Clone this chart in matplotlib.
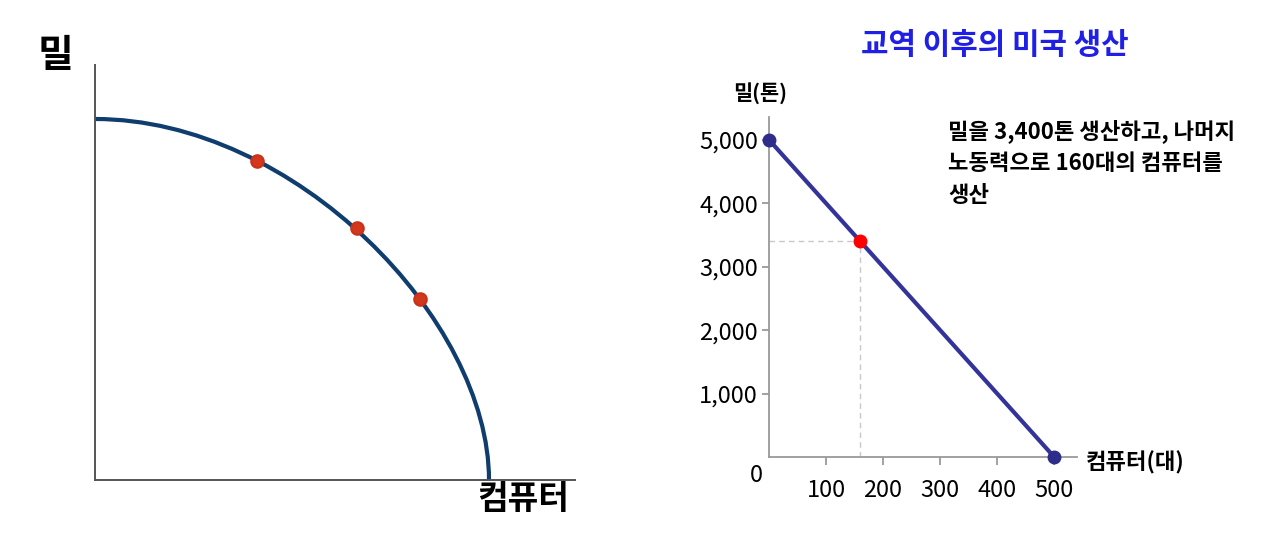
"""PPF sketch (left) and US production after trade (right)."""

import matplotlib
matplotlib.use("Agg")
import matplotlib.pyplot as plt
from matplotlib.path import Path
from matplotlib.patches import PathPatch

# left panel: bowed curve (axis units, no scale shown), ends + bezier controls
ppf_ends_x = [0, 394]
ppf_ends_y = [361, 0]
ppf_ctrl_x = [200, 394]
ppf_ctrl_y = [361, 160]
mark_x = [162, 262, 325]
mark_y = [319, 252, 181]

# right panel: linear PPF after trade
computers = [0, 500]
wheat = [5000, 0]
chosen_x = 160
chosen_y = 3400
xticks = [100, 200, 300, 400, 500]
yticks = [1000, 2000, 3000, 4000, 5000]
ytick_labels = ["1,000", "2,000", "3,000", "4,000", "5,000"]
note_lines = ["밀을 3,400톤 생산하고, 나머지", "노동력으로 160대의 컴퓨터를", "생산"]

KR = ["Noto Sans CJK KR", "DejaVu Sans"]
NUM = ["Liberation Sans Narrow", "Noto Sans CJK KR", "DejaVu Sans"]
W, H = 1270, 536


def fx(px):
    return px / W


def fy(py):
    return 1 - py / H


def main() -> None:
    fig = plt.figure(figsize=(W / 100, H / 100), dpi=100)

    # ---- left: bowed-out PPF
    ax1 = fig.add_axes([fx(95), fy(480), 480 / W, 415 / H])
    verts = [(ppf_ends_x[0], ppf_ends_y[0]),
             (ppf_ctrl_x[0], ppf_ctrl_y[0]),
             (ppf_ctrl_x[1], ppf_ctrl_y[1]),
             (ppf_ends_x[1], ppf_ends_y[1])]
    codes = [Path.MOVETO, Path.CURVE4, Path.CURVE4, Path.CURVE4]
    ax1.add_patch(PathPatch(Path(verts, codes), fc="none", ec="#0f3d6e", lw=3,
                            capstyle="butt", clip_on=False))
    ax1.plot(mark_x, mark_y, "o", ms=9, color="#d4381c", mec="#c8321a", mew=1.5)
    ax1.set_xlim(0, 480)
    ax1.set_ylim(0, 415)
    for s in ["top", "right"]:
        ax1.spines[s].set_visible(False)
    for s in ["left", "bottom"]:
        ax1.spines[s].set_color("#555555")
        ax1.spines[s].set_linewidth(1.4)
    ax1.set_xticks([])
    ax1.set_yticks([])
    fig.text(fx(55), fy(55), "밀", family=KR, fontsize=28, fontweight="bold",
             ha="center", va="center")
    fig.text(fx(523), fy(500), "컴퓨터", family=KR, fontsize=24, fontweight="bold",
             ha="center", va="center")

    # ---- right: straight-line PPF
    ax2 = fig.add_axes([fx(769), fy(457), 308 / W, 340 / H])
    ax2.plot([0, chosen_x], [chosen_y, chosen_y], ls=(0, (4, 3)), lw=1, color="#c8c8c8")
    ax2.plot([chosen_x, chosen_x], [0, chosen_y], ls=(0, (4, 3)), lw=1, color="#c8c8c8")
    ax2.plot(computers, wheat, color="#333399", lw=3, clip_on=False)
    ax2.plot(computers, wheat, "o", ms=9, color="#2e2e8a", clip_on=False, zorder=5)
    ax2.plot([chosen_x], [chosen_y], "o", ms=9, color="#ff0000", clip_on=False, zorder=6)
    ax2.set_xlim(0, 540)
    ax2.set_ylim(0, 5360)
    for s in ["top", "right"]:
        ax2.spines[s].set_visible(False)
    for s in ["left", "bottom"]:
        ax2.spines[s].set_color("#9a9a9a")
        ax2.spines[s].set_linewidth(1.3)
    ax2.set_xticks(xticks)
    ax2.set_xticklabels([str(v) for v in xticks], family=NUM, fontsize=17)
    ax2.set_yticks(yticks)
    ax2.set_yticklabels(ytick_labels, family=NUM, fontsize=17)
    ax2.tick_params(axis="x", length=6, width=1.3, color="#9a9a9a", pad=10)
    ax2.tick_params(axis="y", length=5, width=1.3, color="#9a9a9a", pad=3)
    ax2.annotate("0", (0, 0), xytext=(-9, -13), textcoords="offset points",
                 family=NUM, fontsize=17, ha="center", va="center", annotation_clip=False)

    fig.text(fx(995), fy(45), "교역 이후의 미국 생산", family=KR, fontsize=21.5,
             fontweight="bold", color="#1f1fe6", ha="center", va="center")
    fig.text(fx(760), fy(93), "밀(톤)", family=KR, fontsize=15, fontweight="bold",
             ha="center", va="center")
    fig.text(fx(1086), fy(463), "컴퓨터(대)", family=KR, fontsize=16, fontweight="bold",
             ha="left", va="center")
    for i, line in enumerate(note_lines):
        fig.text(fx(948), fy(131 + 32 * i), line, family=NUM, fontsize=16,
                 fontweight="bold", ha="left", va="center")

    fig.savefig("out.png", dpi=100)


if __name__ == "__main__":
    main()
